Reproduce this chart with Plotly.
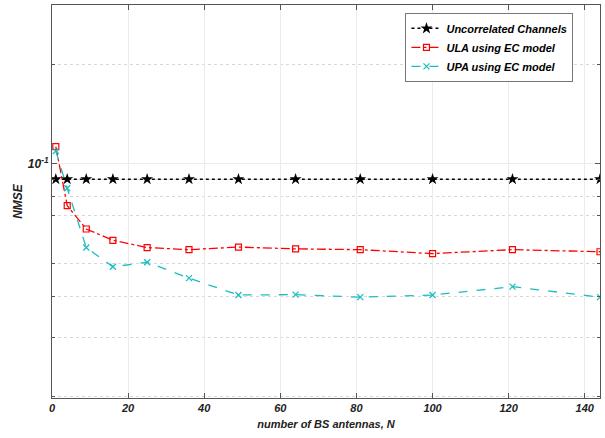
import plotly.graph_objects as go

N = [1, 4, 9, 16, 25, 36, 49, 64, 81, 100, 121, 144]
uncorrelated = [0.090] * 12
ula = [0.1128, 0.0749, 0.0637, 0.0589, 0.0560, 0.0552, 0.0562, 0.0555, 0.0552, 0.0537, 0.0552, 0.0544]
upa = [0.1094, 0.0845, 0.0560, 0.0490, 0.0506, 0.0453, 0.0403, 0.0404, 0.0397, 0.0403, 0.0427, 0.0397]

x_ticks = [0, 20, 40, 60, 80, 100, 120, 140]
y_major = [0.1]
y_major_text = ["<b><i>10<sup>-1</sup></i></b>"]
y_minor = [0.02, 0.03, 0.04, 0.05, 0.07, 0.08, 0.09, 0.2, 0.3]

FONT = "Liberation Sans, Arial, sans-serif"
CYAN = "#1DBDBD"

fig = go.Figure()
fig.add_trace(go.Scatter(
    x=N, y=uncorrelated, mode="lines+markers", name="<b><i>Uncorrelated Channels</i></b>",
    line=dict(color="black", width=1.5, dash="dot"),
    marker=dict(symbol="star", size=9, color="black"),
))
fig.add_trace(go.Scatter(
    x=N, y=ula, mode="lines+markers", name="<b><i>ULA using EC model</i></b>",
    line=dict(color="red", width=1.3, dash="dashdot"),
    marker=dict(symbol="square-open", size=6, color="red", line=dict(width=1.2)),
))
fig.add_trace(go.Scatter(
    x=N, y=upa, mode="lines+markers", name="<b><i>UPA using EC model</i></b>",
    line=dict(color=CYAN, width=1.3, dash="dash"),
    marker=dict(symbol="x-thin-open", size=6, color=CYAN, line=dict(width=1.3, color=CYAN)),
))

fig.update_layout(
    width=605, height=438,
    margin=dict(l=52, r=5, t=5, b=40),
    paper_bgcolor="white", plot_bgcolor="white",
    font=dict(family=FONT, size=11, color="#222"),
    showlegend=True,
    legend=dict(
        x=0.645, y=0.98, xanchor="left", yanchor="top",
        bgcolor="white", bordercolor="#777", borderwidth=1,
        font=dict(family=FONT, size=11, color="black"),
        itemwidth=30, tracegroupgap=4,
    ),
)
fig.update_xaxes(
    range=[0, 144], tickvals=x_ticks,
    ticktext=[f"<b><i>{v}</i></b>" for v in x_ticks],
    showgrid=True, gridcolor="#ebebeb", gridwidth=1,
    showline=True, linecolor="#555", linewidth=1, mirror="ticks",
    ticks="inside", ticklen=5, tickcolor="#555",
    zeroline=False,
    title=dict(text="<b><i>number of BS antennas, N</i></b>", font=dict(family=FONT, size=11), standoff=7),
    tickfont=dict(family=FONT, size=11, color="#222"),
)
fig.update_yaxes(
    type="log", range=[-1.705, -0.521],
    tickvals=y_major, ticktext=y_major_text,
    showgrid=True, gridcolor="#ebebeb", gridwidth=1,
    showline=True, linecolor="#555", linewidth=1, mirror="ticks",
    ticks="inside", ticklen=5, tickcolor="#555",
    zeroline=False,
    minor=dict(tickmode="array", tickvals=y_minor, showgrid=True, gridcolor="#d8d8d8",
               griddash="dot", ticks="inside", ticklen=3, tickcolor="#555"),
    title=dict(text="<b><i>NMSE</i></b>", font=dict(family=FONT, size=12), standoff=2),
    tickfont=dict(family=FONT, size=12, color="#222"),
)

fig.write_html("out.html")
